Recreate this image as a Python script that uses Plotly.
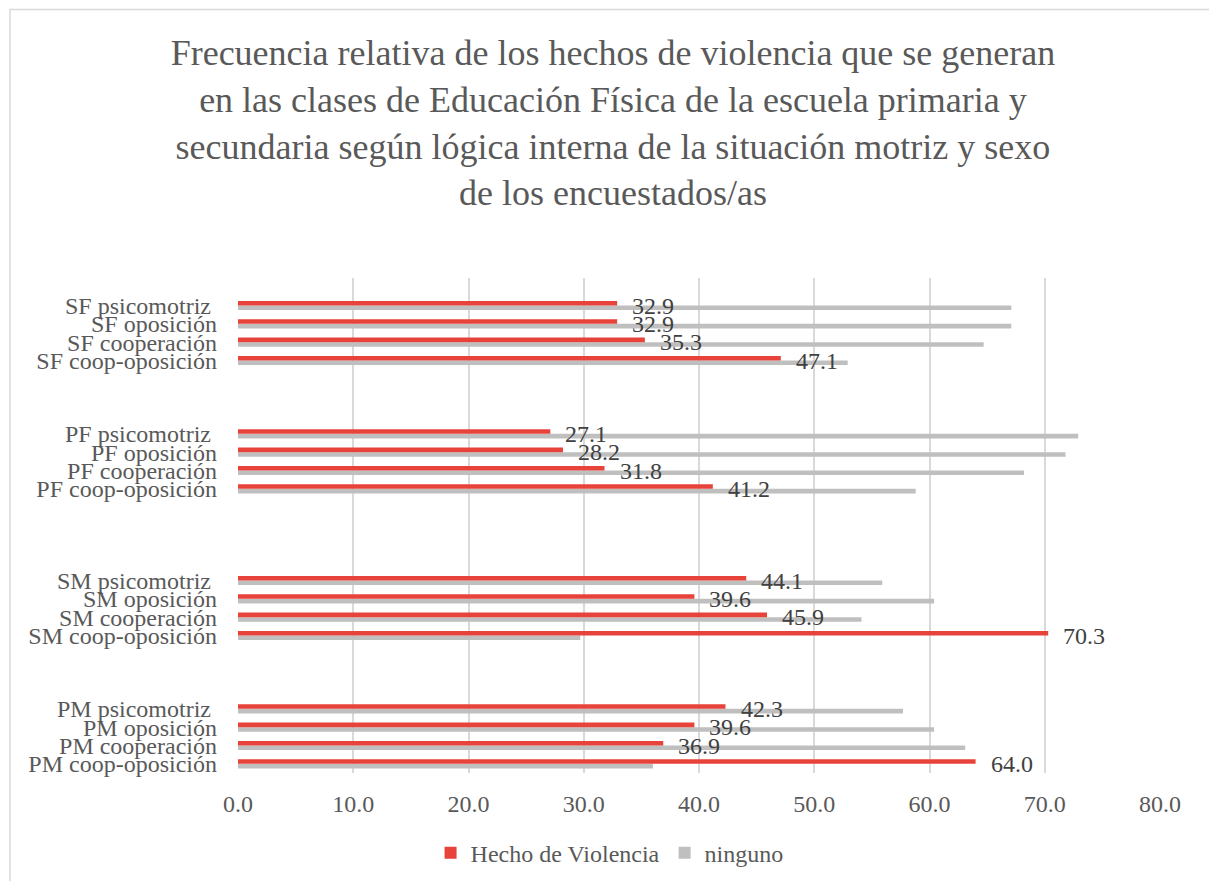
import plotly.graph_objects as go

# Categories listed bottom-to-top; blank strings are empty spacer rows in the source chart
categories = [
    "PM coop-oposición", "PM cooperación", "PM oposición", "PM psicomotriz\u00a0",
    " ", "  ", "   ",
    "SM coop-oposición", "SM cooperación", "SM oposición", "SM psicomotriz\u00a0",
    "    ", "     ", "      ", "       ",
    "PF coop-oposición", "PF cooperación", "PF oposición", "PF psicomotriz\u00a0",
    "        ", "         ", "          ",
    "SF coop-oposición", "SF cooperación", "SF oposición", "SF psicomotriz\u00a0",
    "           ",
]

hecho_violencia = [
    64.0, 36.9, 39.6, 42.3,
    None, None, None,
    70.3, 45.9, 39.6, 44.1,
    None, None, None, None,
    41.2, 31.8, 28.2, 27.1,
    None, None, None,
    47.1, 35.3, 32.9, 32.9,
    None,
]

ninguno = [
    36.0, 63.1, 60.4, 57.7,
    None, None, None,
    29.7, 54.1, 60.4, 55.9,
    None, None, None, None,
    58.8, 68.2, 71.8, 72.9,
    None, None, None,
    52.9, 64.7, 67.1, 67.1,
    None,
]

title_lines = [
    "Frecuencia relativa de los hechos de violencia que se generan",
    "en las clases de Educación Física de la escuela primaria y",
    "secundaria según lógica interna de la situación motriz y sexo",
    "de los encuestados/as",
]

x_ticks = [0, 10, 20, 30, 40, 50, 60, 70, 80]

RED = "#E8433A"
GRAY = "#BFBFBF"
FONT = "Liberation Serif"

fig = go.Figure()
fig.add_trace(go.Bar(
    y=categories, x=ninguno, orientation="h", name="ninguno",
    marker=dict(color=GRAY, line=dict(width=0)), legendrank=2,
    hoverinfo="skip",
))
fig.add_trace(go.Bar(
    y=categories, x=hecho_violencia, orientation="h", name="Hecho de Violencia",
    marker=dict(color=RED, line=dict(width=0)), legendrank=1,
    hoverinfo="skip",
))

# Data labels for the red series
for cat, val in zip(categories, hecho_violencia):
    if val is None:
        continue
    fig.add_annotation(
        x=val, y=cat, xref="x", yref="y", text=f"{val:.1f}",
        showarrow=False, xanchor="left", yanchor="middle", xshift=13,
        font=dict(family=FONT, size=24, color="#404040"),
    )

# Outer chart border
fig.add_shape(
    type="rect", xref="paper", yref="paper",
    x0=-0.2473, x1=1.2, y0=-0.4, y1=1.5423,
    line=dict(color="#D9D9D9", width=1.5), fillcolor="rgba(0,0,0,0)", layer="below",
)

fig.update_layout(
    width=1209, height=881,
    margin=dict(l=238, r=49, t=278, b=108, autoexpand=False),
    paper_bgcolor="white", plot_bgcolor="white",
    barmode="group", bargap=0.5, bargroupgap=0,
    font=dict(family=FONT, size=24, color="#595959"),
    title=dict(
        text="<br>".join(title_lines),
        x=0.507, xref="container", xanchor="center",
        y=1 - 65 / 881, yref="container", yanchor="top",
        font=dict(family=FONT, size=36, color="#595959"),
    ),
    showlegend=True,
    legend=dict(
        orientation="h", x=0.403, xanchor="center", y=-0.162, yanchor="middle",
        font=dict(family=FONT, size=24, color="#595959"),
        itemsizing="constant",
    ),
    xaxis=dict(
        range=[0, 80], tickmode="array", tickvals=x_ticks, tickformat=".1f",
        showgrid=True, gridcolor="#D9D9D9", gridwidth=2,
        zeroline=False, showline=False, ticks="",
        ticklabelstandoff=14, automargin=False,
        tickfont=dict(family=FONT, size=24, color="#595959"),
        fixedrange=True,
    ),
    yaxis=dict(
        type="category", categoryorder="array", categoryarray=categories,
        tickmode="array", tickvals=categories, ticktext=categories,
        range=[-0.5, len(categories) - 0.5],
        showgrid=False, zeroline=False, showline=False, ticks="",
        ticklabelstandoff=20, automargin=False,
        tickfont=dict(family=FONT, size=24, color="#595959"),
        fixedrange=True,
    ),
)

fig.write_html(
    "out.html",
    config={"displayModeBar": False},
    post_script="document.body.style.margin='0';document.body.style.overflow='hidden';",
)
